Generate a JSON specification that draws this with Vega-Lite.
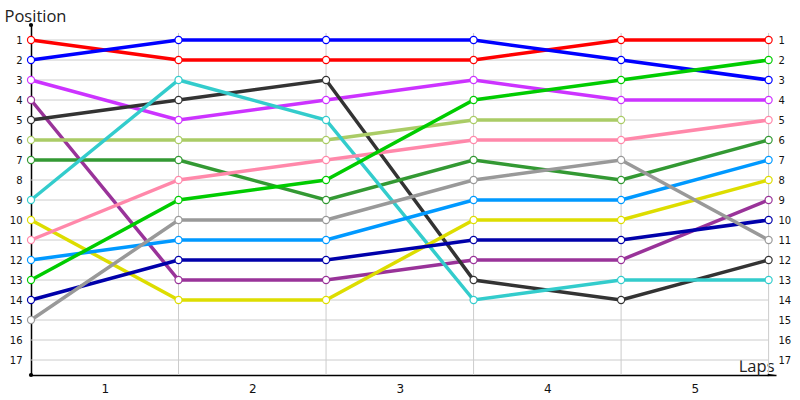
{
  "$schema": "https://vega.github.io/schema/vega-lite/v6.json",
  "width": 745,
  "height": 350,
  "autosize": "none",
  "padding": {"left": 31, "top": 25, "right": 24, "bottom": 25},
  "background": "white",
  "config": {"view": {"stroke": null}, "font": "DejaVu Sans"},
  "datasets": {
    "hgrid": [{"p":1},{"p":2},{"p":3},{"p":4},{"p":5},{"p":6},{"p":7},{"p":8},{"p":9},{"p":10},{"p":11},{"p":12},{"p":13},{"p":14},{"p":15},{"p":16},{"p":17}],
    "vgrid": [{"lap":1},{"lap":2},{"lap":3},{"lap":4},{"lap":5}],
    "dots": [{"lap":0,"pos":0.25},{"lap":0,"pos":17.75}],
    "arrow": [{"lap":5.02,"pos":17.75}],
    "race": [
      {"driver":"A","lap":0,"pos":1},{"driver":"A","lap":1,"pos":2},{"driver":"A","lap":2,"pos":2},{"driver":"A","lap":3,"pos":2},{"driver":"A","lap":4,"pos":1},{"driver":"A","lap":5,"pos":1},
      {"driver":"B","lap":0,"pos":2},{"driver":"B","lap":1,"pos":1},{"driver":"B","lap":2,"pos":1},{"driver":"B","lap":3,"pos":1},{"driver":"B","lap":4,"pos":2},{"driver":"B","lap":5,"pos":3},
      {"driver":"C","lap":0,"pos":3},{"driver":"C","lap":1,"pos":5},{"driver":"C","lap":2,"pos":4},{"driver":"C","lap":3,"pos":3},{"driver":"C","lap":4,"pos":4},{"driver":"C","lap":5,"pos":4},
      {"driver":"D","lap":0,"pos":4},{"driver":"D","lap":1,"pos":13},{"driver":"D","lap":2,"pos":13},{"driver":"D","lap":3,"pos":12},{"driver":"D","lap":4,"pos":12},{"driver":"D","lap":5,"pos":9},
      {"driver":"E","lap":0,"pos":5},{"driver":"E","lap":1,"pos":4},{"driver":"E","lap":2,"pos":3},{"driver":"E","lap":3,"pos":13},{"driver":"E","lap":4,"pos":14},{"driver":"E","lap":5,"pos":12},
      {"driver":"F","lap":0,"pos":6},{"driver":"F","lap":1,"pos":6},{"driver":"F","lap":2,"pos":6},{"driver":"F","lap":3,"pos":5},{"driver":"F","lap":4,"pos":5},
      {"driver":"G","lap":0,"pos":7},{"driver":"G","lap":1,"pos":7},{"driver":"G","lap":2,"pos":9},{"driver":"G","lap":3,"pos":7},{"driver":"G","lap":4,"pos":8},{"driver":"G","lap":5,"pos":6},
      {"driver":"H","lap":0,"pos":9},{"driver":"H","lap":1,"pos":3},{"driver":"H","lap":2,"pos":5},{"driver":"H","lap":3,"pos":14},{"driver":"H","lap":4,"pos":13},{"driver":"H","lap":5,"pos":13},
      {"driver":"I","lap":0,"pos":10},{"driver":"I","lap":1,"pos":14},{"driver":"I","lap":2,"pos":14},{"driver":"I","lap":3,"pos":10},{"driver":"I","lap":4,"pos":10},{"driver":"I","lap":5,"pos":8},
      {"driver":"J","lap":0,"pos":11},{"driver":"J","lap":1,"pos":8},{"driver":"J","lap":2,"pos":7},{"driver":"J","lap":3,"pos":6},{"driver":"J","lap":4,"pos":6},{"driver":"J","lap":5,"pos":5},
      {"driver":"K","lap":0,"pos":12},{"driver":"K","lap":1,"pos":11},{"driver":"K","lap":2,"pos":11},{"driver":"K","lap":3,"pos":9},{"driver":"K","lap":4,"pos":9},{"driver":"K","lap":5,"pos":7},
      {"driver":"L","lap":0,"pos":13},{"driver":"L","lap":1,"pos":9},{"driver":"L","lap":2,"pos":8},{"driver":"L","lap":3,"pos":4},{"driver":"L","lap":4,"pos":3},{"driver":"L","lap":5,"pos":2},
      {"driver":"M","lap":0,"pos":14},{"driver":"M","lap":1,"pos":12},{"driver":"M","lap":2,"pos":12},{"driver":"M","lap":3,"pos":11},{"driver":"M","lap":4,"pos":11},{"driver":"M","lap":5,"pos":10},
      {"driver":"N","lap":0,"pos":15},{"driver":"N","lap":1,"pos":10},{"driver":"N","lap":2,"pos":10},{"driver":"N","lap":3,"pos":8},{"driver":"N","lap":4,"pos":7},{"driver":"N","lap":5,"pos":11}
    ]
  },
  "resolve": {"axis": {"y": "independent"}},
  "layer": [
    {
      "data": {"name": "hgrid"},
      "mark": {"type": "rule", "color": "#cccccc", "strokeWidth": 1},
      "encoding": {
        "y": {"field": "p", "type": "quantitative", "scale": {"domain": [0.25, 17.75], "reverse": true, "nice": false, "zero": false}, "axis": {"orient": "left", "values": [1,2,3,4,5,6,7,8,9,10,11,12,13,14,15,16,17], "grid": false, "ticks": false, "domainColor": "black", "domainWidth": 1.5, "labelPadding": 9, "labelFontSize": 10, "labelColor": "#111", "title": "Position", "titleFont": "Open Sans", "titleAngle": 0, "titleAlign": "left", "titleBaseline": "alphabetic", "titleX": -27, "titleY": -4, "titleFontSize": 16.5, "titleFontWeight": "normal", "titleColor": "#222"}},
        "x": {"datum": 0, "type": "quantitative", "scale": {"domain": [0, 5.05], "nice": false, "zero": false}, "axis": {"values": [0.5,1.5,2.5,3.5,4.5], "labelExpr": "format(datum.value + 0.5, 'd')", "grid": false, "ticks": false, "domainColor": "black", "domainWidth": 1.5, "labelPadding": 8, "labelFontSize": 12, "labelColor": "#111", "title": "Laps", "titleFont": "Open Sans", "titleAlign": "right", "titleBaseline": "alphabetic", "titleX": 743, "titleY": -4, "titleFontSize": 16.5, "titleFontWeight": "normal", "titleColor": "#222"}},
        "x2": {"datum": 5}
      }
    },
    {
      "data": {"name": "vgrid"},
      "mark": {"type": "rule", "color": "#cccccc", "strokeWidth": 1},
      "encoding": {
        "x": {"field": "lap", "type": "quantitative"},
        "y": {"datum": 0.65, "type": "quantitative", "axis": null},
        "y2": {"datum": 17.75}
      }
    },
    {
      "data": {"name": "race"},
      "mark": {"type": "line", "strokeWidth": 3.5},
      "encoding": {
        "x": {"field": "lap", "type": "quantitative"},
        "y": {"field": "pos", "type": "quantitative", "axis": {"orient": "right", "values": [1,2,3,4,5,6,7,8,9,10,11,12,13,14,15,16,17], "grid": false, "ticks": false, "domain": false, "labelPadding": 2, "labelFontSize": 10, "labelColor": "#111", "title": null}},
        "color": {"field": "driver", "type": "nominal", "legend": null, "scale": {"domain": ["A","B","C","D","E","F","G","H","I","J","K","L","M","N"], "range": ["#ff0000","#0000ff","#cc33ff","#993399","#333333","#aacc66","#339933","#33cccc","#dddd00","#ff88aa","#0099ff","#00cc00","#0000aa","#999999"]}},
        "detail": {"field": "driver"}
      }
    },
    {
      "data": {"name": "race"},
      "mark": {"type": "point", "fill": "white", "fillOpacity": 1, "opacity": 1, "size": 50, "strokeWidth": 1.2},
      "encoding": {
        "x": {"field": "lap", "type": "quantitative"},
        "y": {"field": "pos", "type": "quantitative", "axis": null},
        "stroke": {"field": "driver", "type": "nominal", "legend": null, "scale": {"domain": ["A","B","C","D","E","F","G","H","I","J","K","L","M","N"], "range": ["#ff0000","#0000ff","#cc33ff","#993399","#333333","#aacc66","#339933","#33cccc","#dddd00","#ff88aa","#0099ff","#00cc00","#0000aa","#999999"]}}
      }
    },
    {
      "data": {"name": "dots"},
      "mark": {"type": "point", "filled": true, "color": "black", "opacity": 1, "size": 18, "shape": "circle"},
      "encoding": {
        "x": {"field": "lap", "type": "quantitative"},
        "y": {"field": "pos", "type": "quantitative", "axis": null}
      }
    },
    {
      "data": {"name": "arrow"},
      "mark": {"type": "point", "filled": true, "color": "black", "opacity": 1, "size": 60, "shape": "M-1,-0.35L1,0L-1,0.35Z"},
      "encoding": {
        "x": {"field": "lap", "type": "quantitative"},
        "y": {"field": "pos", "type": "quantitative", "axis": null}
      }
    }
  ]
}
